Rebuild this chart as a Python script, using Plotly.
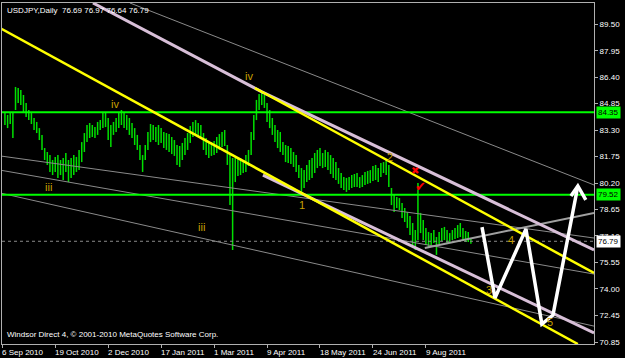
import plotly.graph_objects as go

# ---------------- data ----------------
highs = [84.30, 84.19, 84.36, 84.36, 85.83, 85.77, 85.65, 85.36, 84.89, 84.48,
         84.30, 84.01, 83.78, 83.42, 83.02, 82.25, 82.02, 81.84, 81.55, 81.73,
         81.84, 81.55, 81.67, 81.96, 81.55, 81.67, 81.84, 81.73, 82.14, 82.60,
         83.13, 83.60, 83.72, 83.60, 83.48, 83.78, 83.89, 84.30, 84.36, 84.01,
         83.60, 83.78, 84.01, 84.30, 84.48, 84.36, 84.19, 84.01, 83.72, 83.42,
         83.02, 82.43, 81.84, 82.43, 83.19, 83.66, 83.60, 83.48, 83.60, 83.42,
         83.19, 83.13, 83.07, 82.90, 82.72, 82.43, 82.37, 82.55, 82.84, 83.13,
         83.54, 83.78, 83.89, 83.72, 83.60, 83.13, 82.84, 82.60, 82.60, 82.66,
         82.90, 83.07, 83.19, 83.31, 82.43, 81.84, 81.67, 81.67, 81.67, 81.67,
         81.55, 81.84, 82.14, 83.19, 84.19, 85.07, 85.42, 85.53, 85.36, 84.89,
         84.48, 84.01, 83.60, 83.31, 83.19, 82.60, 82.43, 82.37, 82.25, 82.02,
         81.84, 81.26, 81.08, 80.96, 81.26, 81.55, 81.67, 81.96, 82.14, 82.25,
         81.96, 82.14, 82.02, 81.84, 81.67, 81.43, 81.08, 80.79, 80.55, 80.50,
         80.55, 80.67, 80.73, 80.79, 80.55, 80.67, 80.85, 80.91, 80.96, 81.20,
         81.26, 81.08, 81.37, 81.43, 81.55, 81.26, 79.91, 79.50, 79.38, 79.32,
         79.03, 78.74, 78.50, 78.27, 77.86, 77.45, 80.20, 78.45, 78.04, 77.57,
         77.33, 77.27, 77.45, 77.04, 77.33, 77.57, 77.63, 77.45, 77.27, 77.45,
         77.57, 77.74, 77.86, 77.57, 77.39, 77.33, 76.97]
lows = [83.60, 83.42, 83.66, 82.84, 84.48, 84.89, 84.77, 84.30, 84.07, 83.89,
        83.66, 83.31, 83.13, 82.72, 82.14, 81.55, 81.26, 80.85, 80.67, 80.85,
        80.50, 80.67, 80.38, 80.85, 80.26, 80.50, 80.67, 80.85, 80.96, 81.43,
        82.02, 82.60, 82.84, 82.90, 82.84, 83.02, 83.31, 83.42, 83.48, 82.72,
        82.31, 83.02, 83.19, 83.42, 83.60, 83.42, 83.31, 83.02, 82.84, 82.43,
        82.14, 81.55, 80.85, 81.55, 82.14, 82.60, 82.72, 82.60, 82.43, 82.55,
        82.25, 82.14, 82.02, 81.90, 81.79, 81.26, 81.14, 81.55, 81.84, 82.14,
        82.55, 82.90, 83.02, 82.90, 82.84, 82.14, 81.84, 81.67, 81.79, 81.84,
        81.96, 82.14, 82.31, 82.37, 81.26, 78.91, 76.28, 80.26, 80.61, 80.67,
        80.79, 80.85, 81.20, 81.84, 82.72, 83.89, 84.48, 84.77, 84.60, 83.78,
        83.42, 83.02, 82.60, 82.25, 82.02, 81.84, 81.43, 81.37, 81.32, 81.14,
        80.85, 80.50, 79.68, 79.91, 80.26, 80.38, 80.50, 80.79, 81.08, 81.20,
        81.08, 81.14, 80.96, 80.73, 80.50, 80.38, 80.15, 79.91, 79.79, 79.68,
        79.79, 79.91, 79.97, 79.97, 79.91, 79.97, 80.09, 80.15, 80.20, 80.32,
        80.38, 80.26, 80.55, 80.79, 80.67, 79.97, 78.91, 78.50, 78.74, 78.62,
        78.15, 77.92, 77.57, 77.16, 76.57, 76.28, 76.86, 77.27, 76.86, 76.57,
        76.45, 76.57, 76.69, 75.99, 76.63, 76.81, 76.86, 76.69, 76.75, 76.86,
        76.92, 76.98, 77.04, 76.86, 76.75, 76.75, 76.64]

date_labels = ["6 Sep 2010", "19 Oct 2010", "2 Dec 2010", "17 Jan 2011", "1 Mar 2011",
               "9 Apr 2011", "18 May 2011", "24 Jun 2011", "9 Aug 2011"]
bars_per_label = 20

price_ticks = [89.50, 87.95, 86.40, 84.85, 83.30, 81.75, 80.20, 78.65, 77.10,
               75.55, 74.00, 72.45, 70.85]

green_levels = [84.35, 79.52]
bid_price = 76.79
title_text = "USDJPY,Daily  76.69 76.97 76.64 76.79"
footer_text = "Windsor Direct 4, \u00a9 2001-2010 MetaQuotes Software Corp."

# drawn objects, in (bar index, price)
yellow_lines = [[(-0.87, 89.28), (217.4, 70.77)],
                [(95.4, 85.77), (223.5, 74.93)]]
lavender_lines = [[(34.25, 90.75), (98.07, 85.54), (223.5, 76.28)],
                  [(98.45, 80.67), (223.5, 71.42)]]
gray_lines = [[(48.2, 90.75), (223.5, 80.09)],
              [(-0.87, 81.79), (223.5, 76.98)],
              [(-0.87, 80.96), (223.5, 74.87)],
              [(-0.87, 79.62), (223.5, 71.82)]]
rising_gray = [(159.6, 76.40), (223.5, 78.45)]
w_path = [(181.2, 77.62), (186.1, 73.47), (197.8, 77.51), (203.8, 71.94),
          (208.0, 72.47), (217.4, 80.03)]
arrow_head = [(214.8, 79.44), (217.4, 80.03), (220.4, 79.21)]

wave_labels = [("iv", 42.6, 84.83), ("iii", 17.6, 79.97), ("iv", 93.2, 86.47),
               ("iii", 75.4, 77.62), ("1", 113.2, 78.91), ("2", 146.4, 81.73),
               ("3", 183.8, 73.93), ("4", 192.1, 76.86), ("5", 206.8, 72.06)]
red_marks = [("\u2716", 155.9, 80.91, 10), ("\u2714", 157.9, 79.97, 13)]

X_RANGE = [-0.11, 223.5]
Y_RANGE = [70.772, 90.748]
FONT = "Liberation Sans, Arial, sans-serif"

fig = go.Figure()


def seg_trace(lines, color, width, dash="solid"):
    xs, ys = [], []
    for ln in lines:
        for (x, y) in ln:
            xs.append(x)
            ys.append(y)
        xs.append(None)
        ys.append(None)
    return go.Scatter(x=xs, y=ys, mode="lines", hoverinfo="skip",
                      line=dict(color=color, width=width, dash=dash))


# price bars
bx, by = [], []
for i, (h, l) in enumerate(zip(highs, lows), start=1):
    bx += [i, i, None]
    by += [l, h, None]
fig.add_trace(go.Scatter(x=bx, y=by, mode="lines", hoverinfo="skip",
                         line=dict(color="#00e000", width=1.5)))

# objects
fig.add_trace(seg_trace(gray_lines, "#8a8a8a", 1))
fig.add_trace(seg_trace([[(X_RANGE[0], bid_price), (X_RANGE[1], bid_price)]], "#8a8a8a", 1, "dot"))
fig.add_trace(seg_trace([rising_gray], "#a0a0a0", 2))
fig.add_trace(seg_trace([[(X_RANGE[0], g), (X_RANGE[1], g)] for g in green_levels], "#00ff00", 2))
fig.add_trace(seg_trace(lavender_lines, "#d8bfd8", 3))
fig.add_trace(seg_trace(yellow_lines, "#ffff00", 2.5))
fig.add_trace(seg_trace([w_path, arrow_head], "#ffffff", 3.5))

annotations = []
for txt, x, y in wave_labels:
    annotations.append(dict(x=x, y=y, xref="x", yref="y", text=txt, showarrow=False,
                            font=dict(color="#c8a000", size=11, family=FONT)))
for txt, x, y, sz in red_marks:
    annotations.append(dict(x=x, y=y, xref="x", yref="y", text=txt, showarrow=False,
                            font=dict(color="#ff0000", size=sz, family="DejaVu Sans")))

# date labels
for k, lab in enumerate(date_labels):
    annotations.append(dict(x=k * bars_per_label, y=0, xref="x", yref="paper", text=lab,
                            showarrow=False, xanchor="left", yanchor="top", xshift=-2, yshift=-2,
                            font=dict(color="#ffffff", size=8, family=FONT)))

# price boxes
for val, bg in [(green_levels[0], "#00ff00"), (green_levels[1], "#00ff00"), (bid_price, "#ffffff")]:
    annotations.append(dict(x=1, y=val, xref="paper", yref="y", text=f"{val:.2f}",
                            showarrow=False, xanchor="left", yanchor="middle", xshift=2,
                            bgcolor=bg, borderpad=1,
                            font=dict(color="#000000", size=8, family=FONT)))

annotations.append(dict(x=0, y=1, xref="paper", yref="paper", text=title_text, showarrow=False,
                        xanchor="left", yanchor="top", xshift=3, yshift=-1,
                        font=dict(color="#ffffff", size=8, family=FONT)))
annotations.append(dict(x=0, y=0, xref="paper", yref="paper", text=footer_text, showarrow=False,
                        xanchor="left", yanchor="bottom", xshift=3, yshift=3,
                        font=dict(color="#ffffff", size=8, family=FONT)))

fig.update_layout(
    width=625, height=358, margin=dict(l=2, r=31, t=3, b=14),
    paper_bgcolor="#000000", plot_bgcolor="#000000", showlegend=False,
    annotations=annotations,
    xaxis=dict(range=X_RANGE, showgrid=False, zeroline=False, showline=True, mirror=True,
               linecolor="#b0b0b0", linewidth=1, ticks="outside", ticklen=3, tickcolor="#b0b0b0",
               tickvals=[k * bars_per_label for k in range(len(date_labels))],
               showticklabels=False, fixedrange=True),
    yaxis=dict(range=Y_RANGE, side="right", showgrid=False, zeroline=False, showline=True,
               mirror=True, linecolor="#b0b0b0", linewidth=1, ticks="outside", ticklen=3,
               tickcolor="#b0b0b0", tickvals=price_ticks,
               ticktext=[f"{v:.2f}" for v in price_ticks],
               tickfont=dict(color="#ffffff", size=8, family=FONT), fixedrange=True),
)

fig.write_html("out.html")
